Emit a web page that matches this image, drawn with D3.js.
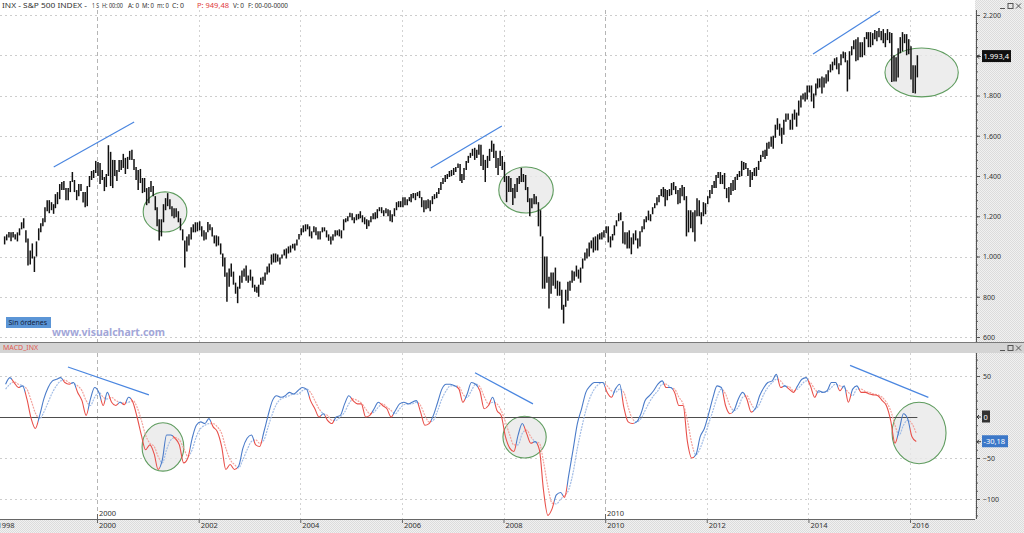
<!DOCTYPE html>
<html>
<head>
<meta charset="utf-8">
<script src="https://cdn.jsdelivr.net/npm/d3@7"></script>
<style>
  body { margin: 0; background: #fff; }
  svg { display: block; font-family: "Noto Sans", "Open Sans", sans-serif; }
</style>
</head>
<body>
<div id="chart"></div>
<script>
// Half-month price bars (1st-15th, 16th-end), starting March 1998
const priceStart = new Date(1998, 2, 1);
const priceLows = [
  // 1998 (Mar-Dec)
  1060,1080, 1095,1076, 1095,1085, 1075,1105, 1135,1140, 1070,955, 960,990, 923,1000, 1080,1120, 1150,1170,
  // 1999
  1225,1215, 1230,1212, 1240,1260, 1285,1330, 1330,1280, 1280,1320, 1370,1320, 1280,1300, 1325,1268, 1245,1250, 1345,1380, 1390,1415,
  // 2000
  1400,1360, 1380,1325, 1345,1400, 1350,1340, 1400,1375, 1420,1430, 1440,1410, 1435,1480, 1480,1430, 1380,1330, 1365,1315, 1320,1255,
  // 2001
  1265,1320, 1300,1230, 1150,1080, 1100,1170, 1230,1250, 1235,1200, 1190,1195, 1170,1130, 1080,945, 1025,1055, 1085,1120, 1120,1125,
  // 2002
  1130,1100, 1080,1085, 1120,1130, 1100,1065, 1050,1055, 1010,950, 900,775, 850,900, 860,815, 768,840, 870,900, 880,870,
  // 2003
  880,845, 825,820, 800,860, 860,880, 910,920, 960,970, 970,975, 960,990, 1005,990, 1015,1020, 1040,1030, 1055,1085,
  // 2004
  1105,1120, 1125,1135, 1100,1090, 1120,1105, 1085,1085, 1120,1125, 1095,1078, 1060,1080, 1100,1105, 1100,1090, 1130,1170, 1175,1195,
  // 2005
  1180,1165, 1180,1185, 1190,1170, 1160,1137, 1150,1170, 1185,1185, 1190,1225, 1215,1200, 1215,1200, 1175,1170, 1200,1230, 1245,1245,
  // 2006
  1245,1255, 1255,1275, 1270,1290, 1280,1300, 1290,1245, 1220,1235, 1240,1225, 1260,1285, 1290,1310, 1330,1360, 1370,1385, 1395,1400,
  // 2007
  1405,1420, 1440,1375, 1365,1380, 1430,1465, 1490,1500, 1480,1490, 1505,1450, 1430,1370, 1440,1475, 1520,1490, 1440,1405, 1450,1430,
  // 2008
  1370,1270, 1320,1320, 1256,1290, 1320,1360, 1370,1370, 1330,1270, 1200,1240, 1260,1260, 1150,1100, 840,840, 870,741, 815,855,
  // 2009
  840,805, 805,735, 667,750, 780,830, 870,880, 900,890, 870,940, 980,990, 1000,1040, 1020,1030, 1030,1085, 1085,1095,
  // 2010
  1115,1070, 1045,1080, 1105,1150, 1175,1180, 1065,1060, 1040,1040, 1011,1060, 1080,1040, 1050,1120, 1135,1170, 1180,1175, 1210,1240,
  // 2011
  1255,1270, 1300,1295, 1250,1280, 1300,1305, 1330,1310, 1260,1265, 1300,1280, 1100,1120, 1140,1120, 1075,1200, 1200,1160, 1200,1210,
  // 2012
  1260,1290, 1310,1340, 1340,1390, 1360,1360, 1335,1290, 1270,1305, 1325,1330, 1380,1395, 1400,1430, 1435,1400, 1345,1380, 1400,1400,
  // 2013
  1430,1470, 1495,1485, 1500,1535, 1545,1535, 1590,1630, 1600,1560, 1605,1670, 1680,1630, 1630,1680, 1645,1700, 1740,1780, 1770,1780,
  // 2014
  1815,1770, 1737,1800, 1835,1840, 1810,1840, 1860,1870, 1915,1925, 1950,1930, 1905,1950, 1985,1965, 1820,1880, 2000,2030, 1970,1975,
  // 2015
  1990,1990, 2000,2080, 2040,2040, 2050,2080, 2070,2090, 2075,2060, 2040,2075, 2060,1867, 1870,1870, 1890,2010, 2020,2060, 2000,2005,
  // 2016 (Jan-Feb)
  1880,1812, 1810,1890
];
const priceHighs = [
  // 1998 (Mar-Dec)
  1100,1110, 1122,1120, 1122,1110, 1120,1140, 1170,1190, 1130,1090, 1030,1065, 1000,1075, 1140,1165, 1190,1245,
  // 1999
  1280,1280, 1270,1260, 1310,1320, 1360,1370, 1375,1340, 1340,1375, 1420,1380, 1330,1360, 1360,1320, 1320,1350, 1400,1425, 1430,1475,
  // 2000
  1470,1465, 1430,1395, 1410,1553, 1520,1480, 1480,1430, 1480,1480, 1510,1490, 1495,1525, 1530,1485, 1445,1430, 1435,1390, 1390,1340,
  // 2001
  1345,1375, 1350,1300, 1245,1185, 1185,1260, 1290,1315, 1285,1250, 1240,1240, 1225,1190, 1135,1080, 1100,1110, 1145,1160, 1170,1170,
  // 2002
  1175,1150, 1130,1120, 1172,1160, 1145,1105, 1105,1100, 1065,1015, 995,920, 940,965, 925,870, 850,905, 930,940, 955,905,
  // 2003
  935,900, 860,850, 860,895, 900,920, 950,965, 1010,1015, 1015,1010, 995,1010, 1035,1040, 1050,1055, 1063,1065, 1085,1112,
  // 2004
  1140,1155, 1160,1160, 1150,1125, 1150,1145, 1125,1125, 1145,1145, 1130,1110, 1100,1110, 1130,1130, 1135,1130, 1185,1190, 1200,1217,
  // 2005
  1215,1195, 1210,1212, 1225,1205, 1195,1185, 1180,1200, 1215,1220, 1235,1245, 1245,1230, 1240,1235, 1230,1210, 1240,1270, 1275,1275,
  // 2006
  1295,1295, 1285,1295, 1310,1315, 1315,1320, 1326,1295, 1280,1280, 1285,1280, 1300,1310, 1320,1340, 1370,1390, 1405,1410, 1425,1430,
  // 2007
  1440,1445, 1462,1460, 1410,1440, 1475,1500, 1515,1535, 1540,1530, 1556,1555, 1505,1480, 1500,1535, 1576,1560, 1525,1490, 1525,1500,
  // 2008
  1470,1400, 1400,1390, 1340,1360, 1390,1400, 1440,1410, 1405,1345, 1290,1290, 1310,1300, 1270,1230, 1100,1000, 1000,900, 920,920,
  // 2009
  945,880, 875,835, 760,835, 875,880, 930,925, 955,935, 945,990, 1020,1040, 1070,1080, 1095,1100, 1110,1115, 1120,1130,
  // 2010
  1150,1150, 1100,1112, 1155,1180, 1215,1220, 1175,1120, 1120,1130, 1095,1115, 1130,1090, 1125,1150, 1185,1200, 1228,1210, 1245,1265,
  // 2011
  1295,1305, 1335,1345, 1335,1330, 1335,1365, 1370,1350, 1330,1340, 1355,1345, 1300,1230, 1230,1220, 1230,1290, 1280,1220, 1270,1265,
  // 2012
  1300,1330, 1355,1375, 1405,1420, 1420,1405, 1415,1340, 1345,1365, 1380,1395, 1410,1425, 1475,1470, 1465,1440, 1430,1420, 1440,1445,
  // 2013
  1475,1505, 1525,1530, 1565,1570, 1595,1600, 1655,1687, 1660,1640, 1680,1710, 1710,1680, 1710,1730, 1715,1775, 1800,1810, 1815,1850,
  // 2014
  1850,1850, 1810,1860, 1885,1885, 1895,1890, 1905,1925, 1955,1968, 1985,1990, 1960,2005, 2019,2015, 1975,2020, 2045,2075, 2080,2090,
  // 2015
  2065,2065, 2090,2115, 2115,2115, 2110,2125, 2120,2135, 2120,2130, 2110,2130, 2115,2110, 2000,1990, 2035,2090, 2115,2105, 2105,2080,
  // 2016 (Jan-Feb)
  2045,1950, 1950,2000
];
const lastPrice = 1993.4;

// Monthly MACD and signal line, starting March 1998
const macdStart = new Date(1998, 2, 15);
const macdValues = [
  40,48,42,36,38,22,-2,-14,2,22,
  36,44,46,48,42,40,42,30,20,2,22,36,
  30,14,30,18,14,18,15,24,18,0,-22,-40,
  -34,-45,-64,-52,-22,-22,-26,-34,-56,-50,-26,-10,
  -6,-8,-2,-12,-18,-36,-64,-58,-64,-60,-38,-26,
  -22,-34,-36,-18,2,20,26,24,26,30,28,32,
  36,34,20,10,0,4,-4,-8,0,2,16,26,
  20,16,16,0,2,10,18,14,10,0,8,16,
  18,16,18,20,6,-10,-8,2,18,34,40,40,
  38,34,18,28,42,40,32,10,14,24,8,2,
  -24,-38,-42,-22,-8,-20,-32,-30,-40,-90,-120,-112,
  -95,-92,-98,-70,-40,-8,10,30,38,42,42,42,
  30,24,34,40,12,-6,-8,-6,4,20,26,32,
  40,44,36,36,30,14,14,-30,-50,-46,-24,-14,
  4,24,38,36,14,4,8,22,30,22,6,10,
  26,36,42,44,52,36,38,34,30,38,46,48,
  38,24,32,30,32,42,42,32,38,18,34,38,
  30,30,28,27,26,20,14,-4,-32,-16,4,-2,
  -24,-30
];
const signalValues = [
  34,40,43,40,38,34,20,5,-2,6,
  18,30,38,44,45,42,41,38,32,20,14,24,
  30,24,22,24,20,18,17,18,20,12,-4,-22,
  -32,-36,-48,-56,-40,-28,-25,-28,-38,-48,-40,-24,
  -14,-10,-8,-8,-12,-20,-38,-52,-58,-62,-52,-40,
  -30,-28,-32,-28,-12,4,16,22,24,26,28,28,
  32,34,30,20,10,4,2,-4,-4,0,6,16,
  22,20,17,10,4,6,12,16,12,8,4,10,
  15,16,16,18,14,2,-6,-4,8,22,32,38,
  38,37,28,24,32,40,37,25,16,18,16,8,
  -6,-22,-34,-34,-20,-16,-24,-30,-32,-55,-85,-105,
  -106,-100,-96,-88,-68,-38,-14,8,24,34,40,42,
  38,32,30,34,30,12,-2,-6,-2,8,18,26,
  32,40,40,36,34,24,16,-4,-32,-46,-38,-24,
  -8,8,24,34,28,14,8,12,24,26,16,10,
  16,28,36,42,46,44,38,37,32,34,40,44,
  42,34,30,30,31,36,40,38,36,30,26,34,
  34,31,30,28,27,24,18,8,-10,-22,-10,-4,
  -8,-20
];
const lastMacd = -30.18;

const priceTicks = [600, 800, 1000, 1200, 1400, 1600, 1800, 2000, 2200];
const macdTicks = [50, 0, -50, -100];
const yearTicks = [1998, 2000, 2002, 2004, 2006, 2008, 2010, 2012, 2014, 2016];
const decadeTicks = [2000, 2010];

// Header fields: text, left, right, colour
const headerFields = [
  ["INX - S&P 500 INDEX -", 2, 87, "#333"], ["1 S", 92, 99, "#333"], ["H: 00:00", 102, 123, "#333"],
  ["A: 0", 128, 139, "#333"], ["M: 0", 142, 154, "#333"], ["m: 0", 157, 169, "#333"],
  ["C: 0", 172, 184, "#333"], ["P: 949,48", 197, 229, "#e03c3c"], ["V: 0", 233, 244, "#333"],
  ["F: 00-00-0000", 248, 288, "#333"]
];

// Hand-drawn annotations (in data units)
const priceTrends = [
  [["1999-02-24", 1445], ["2000-09-24", 1668]],
  [["2006-07-27", 1440], ["2007-12-20", 1648]],
  [["2014-02-03", 2006], ["2015-05-30", 2220]]
];
const priceCircles = [
  {from: "2000-11-28", to: "2001-10-08", hi: 1321, lo: 1122},
  {from: "2007-11-28", to: "2008-12-24", hi: 1445, lo: 1216},
  {from: "2015-07-05", to: "2016-12-13", hi: 2036, lo: 1793}
];
const macdTrends = [
  [["1999-06-06", 61], ["2001-01-08", 27]],
  [["2007-06-10", 54], ["2008-07-31", 16]],
  [["2014-10-27", 63], ["2016-05-12", 24]]
];
const macdCircles = [
  {from: "2000-11-20", to: "2001-09-16", hi: -7, lo: -66},
  {from: "2007-12-28", to: "2008-11-03", hi: 1, lo: -50},
  {from: "2015-08-25", to: "2016-09-16", hi: 18, lo: -57}
];

// ---------- layout ----------
const width = 1024, height = 533;
const plotRight = 975;
const top1 = 10, bot1 = 342, top2 = 353, bot2 = 519;

const es = d3.formatLocale({decimal: ",", thousands: ".", grouping: [3], currency: ["", " €"], minus: "-"});
const fmtPrice = es.format(",.0f");

const svg = d3.select("#chart").append("svg")
  .attr("width", width)
  .attr("height", height);

const defs = svg.append("defs");
const pat = defs.append("pattern").attr("id", "dots")
  .attr("width", 2).attr("height", 2).attr("patternUnits", "userSpaceOnUse");
pat.append("rect").attr("width", 2).attr("height", 2).attr("fill", "#f1f1f1");
pat.append("rect").attr("width", 1).attr("height", 1).attr("fill", "#dcdcdc");
pat.append("rect").attr("x", 1).attr("y", 1).attr("width", 1).attr("height", 1).attr("fill", "#dcdcdc");

defs.append("clipPath").attr("id", "clipTop").append("rect")
  .attr("x", 0).attr("y", top1).attr("width", plotRight).attr("height", bot1 - top1);
defs.append("clipPath").attr("id", "clipBot").append("rect")
  .attr("x", 0).attr("y", top2).attr("width", plotRight).attr("height", bot2 - top2);

// Scales
const x = d3.scaleTime()
  .domain([new Date(2000, 0, 1), new Date(2016, 0, 1)])
  .range([97, 910]);
const yPrice = d3.scaleLinear().domain([600, 2200]).range([337, 15]);
const yMacd = d3.scaleLinear().domain([-100, 50]).range([499, 376]);

const priceData = priceLows.map((lo, i) => ({
  date: new Date(priceStart.getFullYear(), priceStart.getMonth() + Math.floor(i / 2), i % 2 ? 23 : 8),
  lo, hi: priceHighs[i]
}));
const macdData = macdValues.map((m, i) => ({
  date: new Date(macdStart.getFullYear(), macdStart.getMonth() + i, 15),
  m, s: signalValues[i]
}));
const lastDate = priceData[priceData.length - 1].date;

// Backgrounds
svg.append("rect").attr("x", plotRight).attr("y", 0).attr("width", width - plotRight).attr("height", height)
  .attr("fill", "url(#dots)");
svg.append("rect").attr("x", 0).attr("y", bot2).attr("width", width).attr("height", height - bot2)
  .attr("fill", "url(#dots)");
svg.append("rect").attr("x", 0).attr("y", bot1).attr("width", width).attr("height", top2 - bot1)
  .attr("fill", "#d4d4d4");
svg.append("line").attr("x1", 0).attr("x2", width).attr("y1", bot1 + 0.5).attr("y2", bot1 + 0.5)
  .attr("stroke", "#7a7a7a");

// Grid
const grid = svg.append("g").attr("stroke", "#cdcdcd").attr("stroke-dasharray", "2,3");
grid.selectAll(".hp").data(priceTicks).join("line")
  .attr("x1", 0).attr("x2", plotRight)
  .attr("y1", d => Math.round(yPrice(d)) + 0.5).attr("y2", d => Math.round(yPrice(d)) + 0.5);
grid.selectAll(".hm").data([50, -50, -100]).join("line")
  .attr("x1", 0).attr("x2", plotRight)
  .attr("y1", d => Math.round(yMacd(d)) + 0.5).attr("y2", d => Math.round(yMacd(d)) + 0.5);
[[top1, bot1], [top2, bot2]].forEach(([a, b]) => {
  svg.append("g").selectAll("line").data(yearTicks).join("line")
    .attr("x1", d => Math.round(x(new Date(d, 0, 1))) + 0.5)
    .attr("x2", d => Math.round(x(new Date(d, 0, 1))) + 0.5)
    .attr("y1", a).attr("y2", b)
    .attr("stroke", d => decadeTicks.includes(d) ? "#b5b5b5" : "#d3d3d3")
    .attr("stroke-dasharray", d => decadeTicks.includes(d) ? "4,3" : "2,3");
});

// Circles (drawn under the series)
function drawCircles(g, list, y) {
  g.selectAll("ellipse").data(list).join("ellipse")
    .attr("cx", d => (x(new Date(d.from)) + x(new Date(d.to))) / 2)
    .attr("cy", d => (y(d.hi) + y(d.lo)) / 2)
    .attr("rx", d => (x(new Date(d.to)) - x(new Date(d.from))) / 2)
    .attr("ry", d => (y(d.lo) - y(d.hi)) / 2)
    .attr("fill", "#e9e9e9")
    .attr("fill-opacity", 0.8)
    .attr("stroke", "#5f9c5f")
    .attr("stroke-width", 1.1);
}
drawCircles(svg.append("g").attr("clip-path", "url(#clipTop)"), priceCircles, yPrice);
drawCircles(svg.append("g").attr("clip-path", "url(#clipBot)"), macdCircles, yMacd);

// Price bars
svg.append("g").attr("clip-path", "url(#clipTop)")
  .selectAll("line").data(priceData).join("line")
  .attr("x1", d => x(d.date)).attr("x2", d => x(d.date))
  .attr("y1", d => yPrice(d.lo)).attr("y2", d => yPrice(d.hi))
  .attr("stroke", "#111")
  .attr("stroke-width", 1.5);

// Zero line
svg.append("line")
  .attr("x1", 0).attr("x2", x(lastDate))
  .attr("y1", Math.round(yMacd(0)) + 0.5).attr("y2", Math.round(yMacd(0)) + 0.5)
  .attr("stroke", "#4d4d4d");

// MACD colored by position versus signal
function gradient(id, up, down) {
  const g = defs.append("linearGradient").attr("id", id)
    .attr("gradientUnits", "userSpaceOnUse")
    .attr("x1", 0).attr("x2", plotRight).attr("y1", 0).attr("y2", 0);
  macdData.forEach((d, i) => {
    const xs = x(d.date);
    const left = i ? (x(macdData[i - 1].date) + xs) / 2 : 0;
    const right = i < macdData.length - 1 ? (x(macdData[i + 1].date) + xs) / 2 : plotRight;
    const c = d.m >= d.s ? up : down;
    g.append("stop").attr("offset", Math.max(0, left / plotRight)).attr("stop-color", c);
    g.append("stop").attr("offset", Math.min(1, right / plotRight)).attr("stop-color", c);
  });
}
gradient("gMacd", "#4a7bc9", "#e8504a");
gradient("gSig", "#a3bde6", "#f3a39d");

const gm = svg.append("g").attr("clip-path", "url(#clipBot)").attr("fill", "none");
gm.append("path")
  .datum(macdData)
  .attr("d", d3.line().x(d => x(d.date)).y(d => yMacd(d.s)).curve(d3.curveMonotoneX))
  .attr("stroke", "url(#gSig)")
  .attr("stroke-width", 1.2)
  .attr("stroke-dasharray", "2,1");
gm.append("path")
  .datum(macdData)
  .attr("d", d3.line().x(d => x(d.date)).y(d => yMacd(d.m)).curve(d3.curveMonotoneX))
  .attr("stroke", "url(#gMacd)")
  .attr("stroke-width", 1.1);

// Trend lines
function drawTrends(g, list, y) {
  g.selectAll("line").data(list).join("line")
    .attr("x1", d => x(new Date(d[0][0]))).attr("y1", d => y(d[0][1]))
    .attr("x2", d => x(new Date(d[1][0]))).attr("y2", d => y(d[1][1]))
    .attr("stroke", "#4a86e0")
    .attr("stroke-width", 1.2);
}
drawTrends(svg.append("g").attr("clip-path", "url(#clipTop)"), priceTrends, yPrice);
drawTrends(svg.append("g").attr("clip-path", "url(#clipBot)"), macdTrends, yMacd);

// Right axes
const axisX = plotRight + 1;
function styleAxis(g) {
  g.select(".domain").remove();
  g.selectAll(".tick line").attr("stroke", "#555");
  g.selectAll(".tick text").attr("fill", "#333").style("font-size", "7px")
    .style("font-family", "'Noto Sans', sans-serif");
}
// the last-price box sits on top of the 2.000 label, so that label is not shown
const hiddenPrice = priceTicks.filter(d => Math.abs(yPrice(d) - yPrice(lastPrice)) < 8);
svg.append("g").attr("transform", `translate(${axisX},0)`)
  .call(d3.axisRight(yPrice).tickValues(d3.range(600, 2201, 40)).tickSize(2).tickFormat(""))
  .call(styleAxis);
svg.append("g").attr("transform", `translate(${axisX},0)`)
  .call(d3.axisRight(yPrice).tickValues(priceTicks).tickSize(4).tickPadding(3)
    .tickFormat(d => hiddenPrice.includes(d) ? "" : fmtPrice(d)))
  .call(styleAxis);
svg.append("g").attr("transform", `translate(${axisX},0)`)
  .call(d3.axisRight(yMacd).tickValues(d3.range(-120, 71, 10)).tickSize(2).tickFormat(""))
  .call(styleAxis)
  .selectAll(".tick").filter(d => yMacd(d) < top2 + 2 || yMacd(d) > bot2 - 1).remove();
svg.append("g").attr("transform", `translate(${axisX},0)`)
  .call(d3.axisRight(yMacd).tickValues(macdTicks.filter(d => d !== 0)).tickSize(4).tickPadding(3))
  .call(styleAxis);
svg.append("line").attr("x1", axisX + 0.5).attr("x2", axisX + 0.5).attr("y1", top1).attr("y2", bot1)
  .attr("stroke", "#555");
svg.append("line").attr("x1", axisX + 0.5).attr("x2", axisX + 0.5).attr("y1", top2).attr("y2", bot2)
  .attr("stroke", "#555");

// Value markers on the axes
function marker(yv, label, fill, w) {
  const g = svg.append("g").attr("transform", `translate(${axisX},${yv})`);
  g.append("path").attr("d", "M1,0 L5,0 M1,0 L3,-2 M1,0 L3,2").attr("stroke", "#333").attr("fill", "none");
  g.append("rect").attr("x", 6).attr("y", -6.5).attr("width", w).attr("height", 12).attr("fill", fill);
  g.append("text").attr("x", 7.5).attr("y", 2.6).attr("fill", "#fff")
    .style("font-size", "7.5px").text(label);
}
marker(yPrice(lastPrice), es.format(",.1f")(lastPrice), "#111", 29);
marker(yMacd(0), "0", "#333", 8);
marker(yMacd(lastMacd), es.format(".2f")(lastMacd), "#3c78c8", 26);

// Time axis
const tAxis = svg.append("g").attr("transform", `translate(0,${bot2})`)
  .call(d3.axisBottom(x).tickValues(yearTicks.map(d => new Date(d, 0, 1)))
    .tickSize(4).tickFormat(d3.timeFormat("%Y")));
tAxis.select(".domain").attr("stroke", "#666").attr("d", `M0,0.5H${plotRight}`);
tAxis.selectAll(".tick line").attr("stroke", "#666");
tAxis.selectAll(".tick text").attr("text-anchor", "start").attr("x", 1.5).attr("y", 4).attr("dy", "0.71em")
  .attr("fill", "#333").style("font-size", "7.5px").style("font-family", "'Noto Sans', sans-serif");

const dec = svg.append("g").selectAll("g").data(decadeTicks).join("g")
  .attr("transform", d => `translate(${Math.round(x(new Date(d, 0, 1))) + 0.5},${bot2})`);
dec.append("line").attr("y1", -5).attr("y2", 0).attr("stroke", "#666");
dec.append("text").attr("x", 1.5).attr("y", -3).attr("fill", "#333")
  .style("font-size", "7.5px").text(d => d);

// Header
svg.append("g").selectAll("text").data(headerFields).join("text")
  .attr("x", d => d[1]).attr("y", 8)
  .attr("fill", d => d[3])
  .attr("textLength", d => d[2] - d[1])
  .attr("lengthAdjust", "spacingAndGlyphs")
  .style("font-size", "6.8px")
  .text(d => d[0]);

// Window buttons
[[2.5], [bot1 + 2.5]].forEach(([yy]) => {
  const g = svg.append("g").attr("transform", `translate(1000,${yy})`).attr("stroke", "#555").attr("fill", "none");
  g.append("line").attr("x1", 0).attr("x2", 5).attr("y1", 6).attr("y2", 6);
  g.append("rect").attr("x", 8).attr("y", 1).attr("width", 5).attr("height", 5);
  g.append("path").attr("d", "M16,1 L21,6 M21,1 L16,6");
});

// Panel labels
svg.append("text").attr("x", 3).attr("y", 350).attr("fill", "#e05a50")
  .style("font-size", "7px").text("MACD_INX");
svg.append("rect").attr("x", 6).attr("y", 317).attr("width", 45).attr("height", 11).attr("fill", "#5b95d6");
svg.append("text").attr("x", 8.5).attr("y", 325).attr("fill", "#14223a")
  .style("font-size", "7px").text("Sin órdenes");
svg.append("text").attr("x", 52).attr("y", 336).attr("fill", "#a2a6d8")
  .style("font-size", "10.5px").style("font-weight", "bold").text("www.visualchart.com");
</script>
</body>
</html>
